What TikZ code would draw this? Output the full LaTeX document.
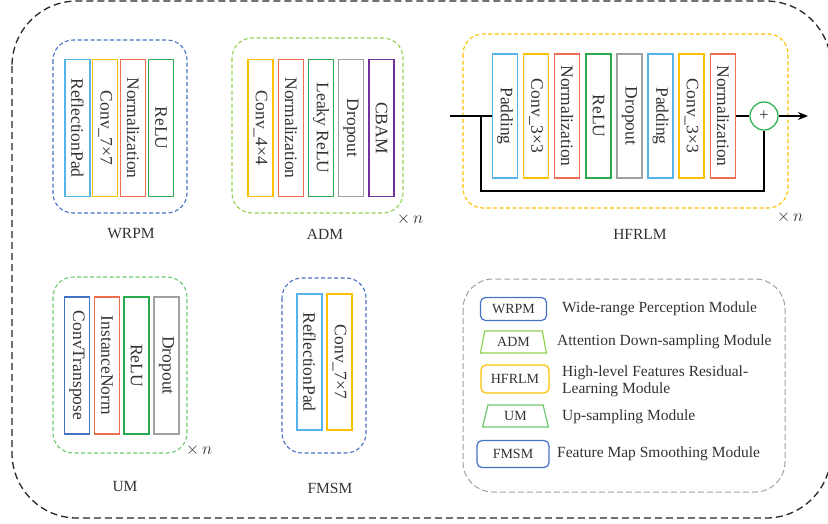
\documentclass[tikz,border=0pt]{standalone}
\usepackage{fontspec}
\setmainfont{Liberation Serif}
\usepackage{tikz}
\usetikzlibrary{arrows.meta}
\usetikzlibrary{shapes.geometric}
\usepackage{xcolor}
\definecolor{padblue}{RGB}{86,180,233}
\definecolor{convyellow}{RGB}{255,192,0}
\definecolor{normred}{RGB}{237,110,80}
\definecolor{relugreen}{RGB}{40,170,80}
\definecolor{dropgray}{RGB}{160,160,160}
\definecolor{cbampurple}{RGB}{112,48,160}
\definecolor{modblue}{RGB}{68,114,196}
\definecolor{admgreen}{RGB}{146,208,80}
\definecolor{umgreen}{RGB}{110,200,110}
\definecolor{txtgray}{RGB}{50,50,50}

\tikzset{
	layer/.style={draw, line width=1.3pt, rotate=-90, minimum width=137pt, minimum height=25pt, inner sep=0pt, text=txtgray, font=\fontsize{17.5}{18}\selectfont},
	group/.style={line width=1.1pt, dash pattern=on 4pt off 2.5pt, rounded corners=20pt},
	modname/.style={text=txtgray, font=\fontsize{15.5}{17}\selectfont},
	timesn/.style={text=txtgray, font=\fontsize{17}{18}\selectfont},
	legbox/.style={draw, line width=1.2pt, rounded corners=5pt, minimum width=66pt, minimum height=23pt, text=txtgray, font=\fontsize{14}{15}\selectfont},
	legtrap/.style={draw, line width=1.2pt, trapezium, trapezium angle=80, trapezium stretches=true, minimum width=66pt, minimum height=22pt, text=txtgray, font=\fontsize{14}{15}\selectfont},
	legtxt/.style={anchor=west, align=left, inner sep=0pt, text=txtgray, font=\fontsize{15.5}{17}\selectfont},
}

\begin{document}
\begin{tikzpicture}[x=1pt, y=-1pt]
	\clip (0,0) rectangle (828,523);
	\draw[line width=1.3pt, color=black!85, dash pattern=on 7pt off 4pt, rounded corners=65pt] (12,1) rectangle (831,518);
	
	% WRPM
	\draw[group, draw=modblue] (53,40) rectangle (187,213);
	\node[layer, draw=padblue] (w1) at (77.5,128) {ReflectionPad};
	\node[layer, draw=convyellow] (w2) at (105.3,128) {Conv\_7×7};
	\node[layer, draw=normred] (w3) at (133.2,128) {Normalization};
	\node[layer, draw=relugreen] (w4) at (161,128) {ReLU};
	\node[modname] (lwrpm) at (131,234) {WRPM};
	
	% ADM
	\draw[group, draw=admgreen] (232,38) rectangle (403,213);
	\node[layer, draw=convyellow] (a1) at (260.5,128) {Conv\_4×4};
	\node[layer, draw=normred] (a2) at (291,128) {Normalization};
	\node[layer, draw=relugreen] (a3) at (321,128) {Leaky ReLU};
	\node[layer, draw=dropgray] (a4) at (351,128) {Dropout};
	\node[layer, draw=cbampurple] (a5) at (381.5,128) {CBAM};
	\node[timesn] (nadm) at (410,219) {$\times\,n$};
	\node[modname] (ladm) at (325,234) {ADM};
	
	% HFRLM
	\draw[group, draw=convyellow] (463,34) rectangle (788,208);
	\node[layer, draw=padblue, minimum width=124pt] (h1) at (505,116) {Padding};
	\node[layer, draw=convyellow, minimum width=124pt] (h2) at (536,116) {Conv\_3×3};
	\node[layer, draw=normred, minimum width=124pt] (h3) at (567,116) {Normalization};
	\node[layer, draw=relugreen, minimum width=124pt] (h4) at (598.5,116) {ReLU};
	\node[layer, draw=dropgray, minimum width=124pt] (h5) at (629.5,116) {Dropout};
	\node[layer, draw=padblue, minimum width=124pt] (h6) at (660.5,116) {Padding};
	\node[layer, draw=convyellow, minimum width=124pt] (h7) at (691.5,116) {Conv\_3×3};
	\node[layer, draw=normred, minimum width=124pt] (h8) at (723,116) {Normalization};
	\node[circle, draw=relugreen, line width=1.2pt, minimum size=28pt, inner sep=0pt, text=txtgray] (plus) at (764,116) {\fontsize{17}{17}\selectfont +};
	\coordinate (hin) at (450,116);
	\coordinate (split) at (481,116);
	\coordinate (back) at (481,191);
	\coordinate (hout) at (808,116);
	\draw[line width=1.3pt] (hin) -- (h1);
	\draw[line width=1.3pt] (split) -- (back) -| (plus);
	\draw[line width=1.3pt] (h8) -- (plus);
	\draw[line width=1.3pt, -{Stealth[length=10pt, width=8pt]}] (plus) -- (hout);
	\node[timesn] (nhfrlm) at (790,217) {$\times\,n$};
	\node[modname] (lhfrlm) at (640,234) {HFRLM};
	
	% UM
	\draw[group, draw=umgreen] (53,277) rectangle (187,453);
	\node[layer, draw=modblue] (u1) at (77,365.5) {ConvTranspose};
	\node[layer, draw=normred] (u2) at (107,365.5) {InstanceNorm};
	\node[layer, draw=relugreen] (u3) at (136.5,365.5) {ReLU};
	\node[layer, draw=dropgray] (u4) at (166.5,365.5) {Dropout};
	\node[timesn] (num) at (199,450) {$\times\,n$};
	\node[modname] (lum) at (125,486) {UM};
	
	% FMSM
	\draw[group, draw=modblue] (282,278) rectangle (366,453);
	\node[layer, draw=padblue, minimum width=136pt] (f1) at (309.5,362) {ReflectionPad};
	\node[layer, draw=convyellow, minimum width=136pt] (f2) at (339.5,362) {Conv\_7×7};
	\node[modname] (lfmsm) at (330,488) {FMSM};
	
	% legend
	\draw[line width=1pt, draw=dropgray, dash pattern=on 6pt off 3pt, rounded corners=30pt] (463,279) rectangle (785,492);
	\node[legbox, draw=modblue] (kwrpm) at (513.5,309) {WRPM};
	\node[legtxt] (twrpm) at (562,309) {Wide-range Perception Module};
	\node[legtrap, draw=admgreen] (kadm) at (513.5,342) {ADM};
	\node[legtxt] (tadm) at (557,342) {Attention Down-sampling Module};
	\node[legbox, draw=convyellow, minimum width=68pt, minimum height=28pt] (khfrlm) at (515,379) {HFRLM};
	\node[legtxt] (thfrlm) at (562,381) {High-level Features Residual-\\Learning Module};
	\node[legtrap, draw=umgreen] (kum) at (515.5,416) {UM};
	\node[legtxt] (tum) at (562,417) {Up-sampling Module};
	\node[legbox, draw=modblue, minimum width=72pt, minimum height=27pt] (kfmsm) at (513,454) {FMSM};
	\node[legtxt] (tfmsm) at (557,454) {Feature Map Smoothing Module};
\end{tikzpicture}
\end{document}
